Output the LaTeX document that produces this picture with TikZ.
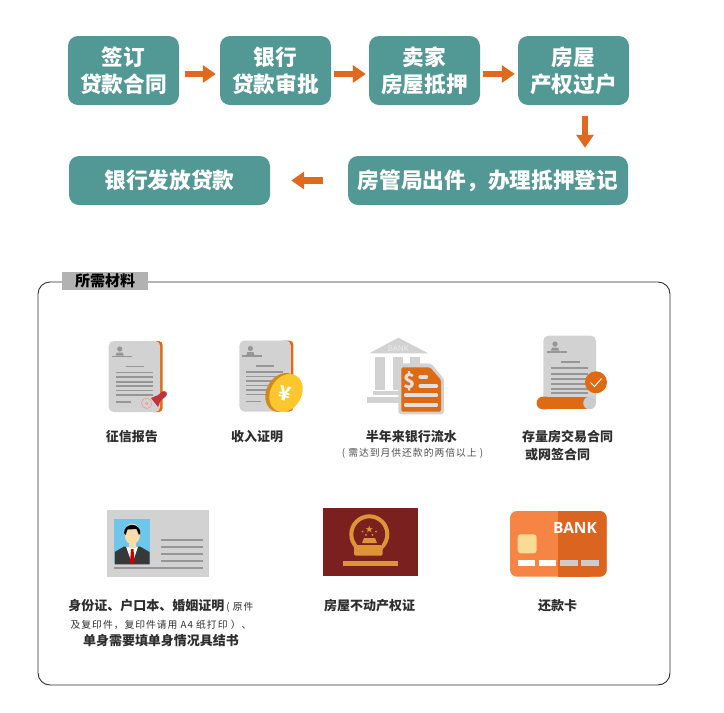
\documentclass[tikz,border=0pt]{standalone}
\usepackage{fontspec}
\setmainfont{Noto Sans CJK SC}
\newfontfamily\spacedfont{Noto Sans CJK SC}[LetterSpace=10]
\newfontfamily\bankfont{Open Sans}
\usetikzlibrary{arrows.meta}
\definecolor{tealbox}{HTML}{529894}
\definecolor{flowarrow}{HTML}{E0691F}
\definecolor{inkgrey}{HTML}{2E2E2E}
\definecolor{sheetgrey}{HTML}{D2D2D2}
\definecolor{lineg}{HTML}{969696}
\definecolor{iconorange}{HTML}{DE6A14}
\definecolor{goldtone}{HTML}{DC9638}
\definecolor{deedred}{HTML}{7A2120}
\definecolor{cardlight}{HTML}{F58445}
\definecolor{carddark}{HTML}{DC6421}
\definecolor{chipyellow}{HTML}{FADB94}
\definecolor{photoblue}{HTML}{6EC6EA}
\definecolor{skintone}{HTML}{F9DCAA}
\definecolor{stampred}{HTML}{C0353A}
\definecolor{coinyellow}{HTML}{FCC62D}
\definecolor{coinedge}{HTML}{D08A1C}
\tikzset{every picture/.append style={x=1pt,y=-1pt}}
\tikzset{stepbox/.style={fill=tealbox,rounded corners=10pt,text=white,align=center,inner sep=0pt,
  font=\bfseries\fontsize{21.7}{27}\selectfont}}
\tikzset{smallbox/.style={stepbox,minimum width=111pt,minimum height=69pt}}
\tikzset{flow/.style={-{Triangle[length=13pt,width=17pt]},line width=6.5pt,flowarrow}}
\tikzset{caption/.style={text=inkgrey,align=center,inner sep=0pt,font=\bfseries\fontsize{13}{17.5}\selectfont}}
\tikzset{note/.style={text=inkgrey!85,inner sep=0pt,font=\spacedfont\fontsize{9.8}{13}\selectfont}}
\tikzset{rule/.style={lineg,line width=1.7pt}}
\tikzset{docsheet/.pic={
  \fill[iconorange,rounded corners=4pt] (40,0) rectangle (54,71);
  \fill[sheetgrey,rounded corners=5pt] (0,0) rectangle (51.5,71);
  \fill[lineg] (11,8) circle (2.6);
  \fill[lineg] (7,14.5) -- (8,11.5) -- (14,11.5) -- (15,14.5) -- cycle;
  \draw[rule] (3,15.5) -- (23,15.5);
  \draw[rule] (17,25.5) -- (35,25.5);
  \foreach \liney in {31.5,36,40.7,45,49.5,54}{\draw[rule] (7,\liney) -- (44,\liney);}
  \draw[rule] (7,61) -- (22,61);
}}
\begin{document}
\begin{tikzpicture}
\useasboundingbox (0,0) rectangle (724,713);
%flow of the loan at the top, materials panel below
\node (sign) at (123.5,70.5)[smallbox]{签订\\贷款合同};
\node (bank) at (275.5,70.5)[smallbox]{银行\\贷款审批};
\node (seller) at (424.5,70.5)[smallbox]{卖家\\房屋抵押};
\node (owner) at (573.5,70.5)[smallbox]{房屋\\产权过户};
\node (office) at (488,180.5)[stepbox,minimum width=280pt,minimum height=49pt]{房管局出件，办理抵押登记};
\node (payout) at (169.5,180.5)[stepbox,minimum width=201pt,minimum height=49pt]{银行发放贷款};
\draw[flow,shorten <=6pt,shorten >=4pt] ([yshift=-3.5pt]sign.east)--([yshift=-3.5pt]bank.west);
\draw[flow,shorten <=3pt,shorten >=3pt] ([yshift=-3.5pt]bank.east)--([yshift=-3.5pt]seller.west);
\draw[flow,shorten <=3pt,shorten >=3pt] ([yshift=-3.5pt]seller.east)--([yshift=-3.5pt]owner.west);
\draw[flow,shorten <=11pt,shorten >=8pt] ([xshift=11.5pt]owner.south)--([xshift=97pt]office.north);
\draw[flow,shorten <=25pt,shorten >=21pt] (office.west)--(payout.east);
%panel
\draw[inkgrey,line width=0.9pt,rounded corners=12pt] (38,282) rectangle (670,685);
\node (paneltitle) at (105,281)[fill=black!30,minimum width=86pt,minimum height=18.5pt,inner sep=0pt,text=black,
  font=\bfseries\fontsize{15}{16}\selectfont]{所需材料\hspace{4pt}};
%credit report
\pic at (108.7,341){docsheet};
\draw[red!45,line width=0.5pt] (146.7,403.3) circle (5.2) (146.7,403.3) circle (1.2);
\draw[stampred,line width=6pt,line cap=round] (164,394) -- (158,399);
\fill[stampred] (151,398) -- (157,395.5) -- (161,399.5) -- (158,407) -- cycle;
\node (credit) at (131.8,436.7)[caption]{征信报告};
%income
\pic at (239.4,340.5){docsheet};
\fill[coinedge] (282.5,392.5) ellipse [x radius=20.5,y radius=16,rotate=60];
\fill[coinyellow] (286,393) ellipse [x radius=20,y radius=15.5,rotate=60];
\node (yuan) at (285,393.5)[rotate=-12,text=white,inner sep=0pt,font=\bfseries\fontsize{20}{20}\selectfont]{¥};
\node (income) at (257,436.7)[caption]{收入证明};
%bank statement
\fill[sheetgrey] (369.3,353.3) -- (398.3,337.7) -- (428.3,353.3) -- cycle;
\foreach \colx in {375,393,410}{\fill[sheetgrey] (\colx,356.7) rectangle (\colx+10,390);}
\fill[sheetgrey] (373,390.7) rectangle (424,395);
\fill[sheetgrey] (366.7,396.7) rectangle (424,403.3);
\node (banksign) at (398.3,349)[text=white!93!black,inner sep=0pt,font=\bankfont\fontsize{8}{8}\selectfont]{BANK};
\fill[sheetgrey,rounded corners=3pt] (398.3,363.3) -- (431,363.3) -- (444,379) -- (444,414.3) -- (398.3,414.3) -- cycle;
\fill[iconorange,rounded corners=1.5pt] (401.3,367.3) -- (430,367.3) -- (441,380) -- (441,411.7) -- (401.3,411.7) -- cycle;
\node (dollar) at (410,381.7)[text=white!88!black,inner sep=0pt,font=\bfseries\fontsize{20}{20}\selectfont]{\$};
\foreach \xa/\xb/\liney in {419.3/427.3/376.7,419.3/437.3/386,404.7/437.3/395.3,404.7/437.3/404.7}{
  \draw[white!88!black,line width=3.8pt,line cap=round] (\xa+1,\liney) -- (\xb-1,\liney);}
\node (statement) at (411.3,436.7)[caption]{半年来银行流水};
\node (statementnote) at (412.5,453)[note]{( 需达到月供还款的两倍以上 )};
%contract
\fill[sheetgrey,rounded corners=5pt] (543.3,335.7) rectangle (596,408);
\fill[lineg] (555,344) circle (2.6);
\fill[lineg] (551,350.5) -- (552,347.5) -- (558,347.5) -- (559,350.5) -- cycle;
\draw[rule] (546.7,351.7) -- (566.7,351.7);
\draw[rule] (561,362.3) -- (580,362.3);
\foreach \liney in {368.3,374,379.3,384.3,389.3,393.3}{\draw[rule] (551,\liney) -- (588.3,\liney);}
\fill[iconorange,rounded corners=6pt] (536.7,396.7) rectangle (552,409.3);
\fill[iconorange] (543,396.7) rectangle (588,409.3);
\fill[white!80!black] (589.5,403) circle (6.3);
\fill[iconorange] (596,382.3) circle (11);
\draw[white,line width=1pt] (590.5,382.5) -- (594.5,386.5) -- (601.5,378.5);
\node (contract) at (522,445.5)[caption,align=left,anchor=west]{存量房交易合同\\\hspace{3pt}或网签合同};
%id card
\fill[sheetgrey] (107,510) rectangle (208.7,576.7);
\fill[photoblue] (114.3,519) rectangle (150,564.3);
\fill[black!78] (114.8,564.3) -- (114.8,552) -- (124,546.5) -- (140,546.5) -- (149.5,552) -- (149.5,564.3) -- cycle;
\fill[white] (126,546.5) -- (138,546.5) -- (132.2,564) -- cycle;
\fill[red!80!black] (131,549) -- (133.5,549) -- (134.5,562) -- (132.2,564.3) -- (130,562) -- cycle;
\fill[skintone] (128.5,540) rectangle (136,548);
\fill[skintone] (132.3,534) ellipse [x radius=7.8,y radius=10.5];
\fill[black] (124,533) arc (180:360:8.2) -- (139,535) -- (136.5,529) -- (127.5,529.5) -- (125.5,535) -- cycle;
\draw[rule] (114.3,567.7) -- (202.7,567.7);
\foreach \liney in {540.3,547.3,554,561}{\draw[rule] (161,\liney) -- (202.7,\liney);}
\node (idnote) at (161,623.3)[caption]{身份证、户口本、婚姻证明\hspace{2pt}{\mdseries\spacedfont\fontsize{9.8}{13}\selectfont ( 原件}\\
  {\mdseries\spacedfont\fontsize{9.8}{13}\selectfont 及复印件，复印件请用 A4 纸打印 ）、\hspace{5pt}}\\单身需要填单身情况具结书};
%property certificate
\fill[deedred] (323,508.3) rectangle (417.7,576.3);
\draw[goldtone,line width=4pt] (369.3,534.3) circle (18);
\fill[deedred] (357,541) rectangle (382,546);
\fill[goldtone,rounded corners=2pt] (354,545) rectangle (382.7,555.7);
\fill[goldtone] (362,543) -- (364,538) -- (375,538) -- (377,543) -- cycle;
\node (emblemstar) at (369.3,529.5)[text=goldtone,inner sep=0pt,font=\fontsize{8}{8}\selectfont]{★};
\foreach \starx in {362.5,376}{\fill[goldtone] (\starx,531.5) circle (1);}
\foreach \starx in {366,372.5}{\fill[goldtone] (\starx,534.8) circle (1);}
\fill[goldtone] (342.7,561) rectangle (398,566.3);
\node (deed) at (369.5,605.7)[caption]{房屋不动产权证};
%bank card
\fill[cardlight,rounded corners=7pt] (510,511) rectangle (606.7,576.7);
\fill[carddark,rounded corners=7pt] (558.3,511) rectangle (606.7,576.7);
\fill[carddark] (558.3,511) rectangle (590,576.7);
\node (cardname) at (575,528.3)[text=white,inner sep=0pt,font=\bankfont\bfseries\fontsize{15.5}{15.5}\selectfont]{BANK};
\fill[chipyellow,rounded corners=3pt] (517.7,534.3) rectangle (536.7,553.3);
\fill[white] (517.7,560) rectangle (535,566);
\fill[white] (539,560) rectangle (556.3,566);
\fill[black!20] (560,560) rectangle (577.7,566);
\fill[black!20] (581.3,560) rectangle (599,566);
\node (repay) at (557.5,605.7)[caption]{还款卡};
\end{tikzpicture}
\end{document}
